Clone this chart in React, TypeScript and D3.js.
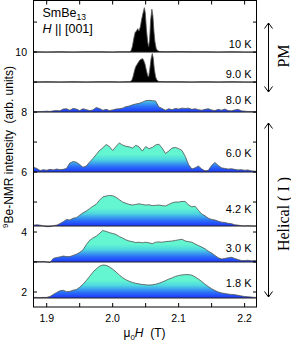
import React from "react";
import * as d3 from "d3";

// ---- data ----
const fieldGrid: number[] = d3.range(69).map((i) => +(1.88 + i * 0.005).toFixed(3));

const panelLabels = ["10 K", "9.0 K", "8.0 K", "6.0 K", "4.2 K", "3.0 K", "1.8 K"];
const baselines = [10, 9, 8, 6, 4.2, 3.0, 1.8];

const fields10K = [1.88, 1.9, 1.92, 1.94, 1.96, 1.98, 2.0, 2.01, 2.02, 2.026, 2.028, 2.03, 2.032, 2.034, 2.036, 2.038, 2.04, 2.042, 2.044, 2.046, 2.048, 2.0495, 2.051, 2.053, 2.0545, 2.056, 2.0575, 2.0594, 2.061, 2.0625, 2.064, 2.066, 2.068, 2.071, 2.08, 2.1, 2.12, 2.14, 2.16, 2.18, 2.2, 2.22];
const values10K = [0.01, 0.0, 0.01, 0.0, 0.01, 0.01, 0.0, 0.01, 0.01, 0.01, 0.05, 0.2, 0.45, 0.65, 0.7, 0.78, 0.7, 0.85, 1.1, 1.3, 1.48, 1.3, 0.8, 0.35, 0.18, 0.4, 1.05, 1.43, 1.2, 0.7, 0.35, 0.12, 0.05, 0.02, 0.01, 0.02, 0.01, 0.01, 0.0, 0.01, 0.0, 0.0];

const fields9K = [1.88, 1.9, 1.92, 1.94, 1.96, 1.98, 2.0, 2.01, 2.02, 2.026, 2.029, 2.031, 2.033, 2.035, 2.037, 2.039, 2.041, 2.043, 2.0455, 2.047, 2.049, 2.051, 2.053, 2.0545, 2.056, 2.058, 2.06, 2.0615, 2.063, 2.065, 2.067, 2.07, 2.08, 2.1, 2.12, 2.14, 2.16, 2.18, 2.2, 2.22];
const values9K = [0.0, 0.01, 0.0, 0.01, 0.0, 0.01, 0.01, 0.0, 0.01, 0.01, 0.06, 0.19, 0.38, 0.52, 0.59, 0.66, 0.73, 0.76, 0.78, 0.72, 0.6, 0.4, 0.22, 0.17, 0.38, 0.75, 0.95, 0.8, 0.45, 0.18, 0.07, 0.02, 0.01, 0.01, 0.0, 0.01, 0.0, 0.01, 0.0, 0.0];

const values8K = [0.01, 0.01, 0.02, 0.02, 0.03, 0.02, 0.04, 0.05, 0.04, 0.1, 0.11, 0.06, 0.12, 0.1, 0.05, 0.11, 0.08, 0.05, 0.07, 0.15, 0.12, 0.06, 0.09, 0.05, 0.07, 0.1, 0.11, 0.13, 0.18, 0.2, 0.24, 0.27, 0.29, 0.33, 0.38, 0.39, 0.38, 0.37, 0.17, 0.12, 0.06, 0.11, 0.08, 0.12, 0.1, 0.13, 0.12, 0.13, 0.09, 0.11, 0.08, 0.06, 0.09, 0.11, 0.07, 0.05, 0.09, 0.06, 0.1, 0.05, 0.04, 0.07, 0.09, 0.04, 0.03, 0.02, 0.02, 0.01, 0.01];

const values6K = [0.16, 0.12, 0.05, 0.08, 0.06, 0.09, 0.07, 0.1, 0.08, 0.09, 0.12, 0.3, 0.35, 0.33, 0.25, 0.16, 0.2, 0.33, 0.45, 0.58, 0.72, 0.8, 0.92, 0.85, 0.72, 0.85, 0.97, 0.9, 0.86, 0.84, 0.8, 0.89, 0.84, 0.7, 0.85, 0.78, 0.82, 0.9, 0.93, 0.8, 0.62, 0.7, 0.8, 0.82, 0.78, 0.72, 0.52, 0.25, 0.1, 0.14, 0.2, 0.1, 0.04, 0.06, 0.22, 0.32, 0.22, 0.14, 0.12, 0.1, 0.11, 0.09, 0.07, 0.08, 0.06, 0.07, 0.04, 0.03, 0.02];

const values4K2 = [0.03, 0.04, 0.03, 0.0, -0.02, -0.02, 0.01, 0.03, 0.08, 0.14, 0.22, 0.2, 0.26, 0.28, 0.36, 0.44, 0.5, 0.58, 0.66, 0.72, 0.86, 0.97, 1.0, 1.02, 1.01, 0.96, 0.88, 0.8, 0.76, 0.72, 0.7, 0.72, 0.74, 0.72, 0.7, 0.71, 0.68, 0.69, 0.7, 0.68, 0.67, 0.72, 0.77, 0.8, 0.8, 0.82, 0.82, 0.7, 0.64, 0.66, 0.52, 0.4, 0.34, 0.26, 0.22, 0.2, 0.16, 0.13, 0.12, 0.09, 0.08, 0.04, 0.03, 0.01, 0.0, 0.01, 0.0, 0.0, 0.0];

const values3K = [0.01, 0.02, 0.01, 0.02, 0.0, -0.02, 0.12, 0.15, 0.17, 0.2, 0.18, 0.18, 0.22, 0.26, 0.32, 0.4, 0.58, 0.72, 0.8, 0.86, 0.95, 1.05, 1.02, 0.98, 0.95, 0.92, 0.85, 0.8, 0.74, 0.7, 0.68, 0.65, 0.66, 0.64, 0.66, 0.64, 0.61, 0.66, 0.67, 0.66, 0.68, 0.69, 0.7, 0.72, 0.74, 0.76, 0.7, 0.68, 0.66, 0.6, 0.55, 0.5, 0.44, 0.36, 0.3, 0.22, 0.14, 0.1, 0.12, 0.14, 0.16, 0.12, 0.08, 0.05, 0.05, 0.06, 0.04, 0.05, 0.04];

const values1K8 = [0.02, 0.02, 0.01, 0.02, 0.02, 0.05, 0.12, 0.18, 0.24, 0.26, 0.21, 0.22, 0.26, 0.28, 0.36, 0.46, 0.58, 0.72, 0.86, 0.97, 1.06, 1.1, 1.09, 1.04, 0.96, 0.87, 0.77, 0.68, 0.61, 0.56, 0.52, 0.49, 0.47, 0.45, 0.44, 0.43, 0.44, 0.46, 0.49, 0.53, 0.58, 0.63, 0.67, 0.72, 0.75, 0.77, 0.78, 0.78, 0.76, 0.7, 0.63, 0.55, 0.46, 0.38, 0.31, 0.25, 0.2, 0.17, 0.15, 0.13, 0.12, 0.11, 0.09, 0.07, 0.05, 0.04, 0.03, 0.02, 0.02];

const xTickValues = [1.9, 2.0, 2.1, 2.2];
const xMinorTicks = [1.9, 1.95, 2.0, 2.05, 2.1, 2.15, 2.2];
const yTickValues = [2, 4, 6, 8, 10];
const yMinorTicks = [2, 3, 4, 5, 6, 7, 8, 9, 10, 11];

// ---- layout ----
const W = 291;
const H = 341;
const left = 33.5;
const right = 256.5;
const top = 0.5;
const bottom = 307;

const sans = "'Liberation Sans', Arial, Helvetica, sans-serif";
const serif = "'Liberation Serif', 'Times New Roman', serif";

export default function App() {
  const x = d3.scaleLinear().domain([1.88, 2.218]).range([left, right]);
  const y = d3.scaleLinear().domain([1.5, 11.72]).range([bottom, top]);

  const panels = [
    { f: fields10K, v: values10K, black: true },
    { f: fields9K, v: values9K, black: true },
    { f: fieldGrid, v: values8K, black: false },
    { f: fieldGrid, v: values6K, black: false },
    { f: fieldGrid, v: values4K2, black: false },
    { f: fieldGrid, v: values3K, black: false },
    { f: fieldGrid, v: values1K8, black: false },
  ];
  const labelOffsets = [0.12, 0.12, 0.27, 0.49, 0.42, 0.32, 0.36];

  return (
    <svg width={W} height={H} style={{ position: "absolute", left: 0, top: 0, background: "#fff" }}>
      <defs>
        <clipPath id="plotclip">
          <rect x={left} y={top} width={right - left} height={bottom - top} />
        </clipPath>
        {panels.map((p, i) => (
          <linearGradient
            key={i}
            id={`grad${i}`}
            gradientUnits="userSpaceOnUse"
            x1={0}
            x2={0}
            y1={y(baselines[i])}
            y2={y(baselines[i] + 0.6)}
          >
            <stop offset="0" stopColor="#1d34ff" />
            <stop offset="0.3" stopColor="#2b6ef7" />
            <stop offset="0.7" stopColor="#4fd8e0" />
            <stop offset="1" stopColor="#64f6d0" />
          </linearGradient>
        ))}
      </defs>

      <g clipPath="url(#plotclip)">
        {panels.map((p, i) => {
          const b = baselines[i];
          const pts = p.f.map((f, j) => [f, p.v[j]] as [number, number]);
          const area = d3
            .area<[number, number]>()
            .x((d) => x(d[0]))
            .y0(y(b))
            .y1((d) => y(b + d[1]));
          const line = d3
            .line<[number, number]>()
            .x((d) => x(d[0]))
            .y((d) => y(b + d[1]));
          return (
            <g key={i}>
              <path d={area(pts) || ""} fill={p.black ? "#000" : `url(#grad${i})`} />
              <path
                d={line(pts) || ""}
                fill="none"
                stroke={p.black ? "#555" : "#505050"}
                strokeWidth={0.8}
              />
              <line x1={left} x2={right} y1={y(b)} y2={y(b)} stroke="#222" strokeWidth={1} />
            </g>
          );
        })}
      </g>

      {/* frame */}
      <rect x={left} y={top} width={right - left} height={bottom - top} fill="none" stroke="#000" strokeWidth={1} />

      {/* x ticks */}
      {xMinorTicks.map((t) => (
        <g key={`xt${t}`}>
          <line x1={x(t)} x2={x(t)} y1={bottom} y2={bottom - 4} stroke="#000" strokeWidth={1} />
          <line x1={x(t)} x2={x(t)} y1={top} y2={top + 4} stroke="#000" strokeWidth={1} />
        </g>
      ))}
      {xTickValues.map((t) => (
        <text key={`xl${t}`} x={x(t)} y={321.5} textAnchor="middle" fontFamily={sans} fontSize={10.5} fill="#000">
          {t.toFixed(1)}
        </text>
      ))}

      {/* y ticks */}
      {yMinorTicks.map((t) => (
        <g key={`yt${t}`}>
          <line x1={left} x2={left + 3.5} y1={y(t)} y2={y(t)} stroke="#000" strokeWidth={1} />
          <line x1={right} x2={right - 3.5} y1={y(t)} y2={y(t)} stroke="#000" strokeWidth={1} />
        </g>
      ))}
      {yTickValues.map((t) => (
        <text key={`yl${t}`} x={27} y={y(t)} dy="0.36em" textAnchor="end" fontFamily={sans} fontSize={10.5} fill="#000">
          {t}
        </text>
      ))}

      {/* panel labels */}
      {panelLabels.map((l, i) => (
        <text key={l} x={251.5} y={y(baselines[i] + labelOffsets[i])} textAnchor="end" fontFamily={sans} fontSize={11} fill="#000">
          {l}
        </text>
      ))}

      {/* sample annotation */}
      <text x={42.5} y={17} fontFamily={sans} fontSize={12.5} fill="#000">
        SmBe<tspan fontSize={8.5} dy={2.5}>13</tspan>
      </text>
      <text x={42.5} y={33} fontFamily={sans} fontSize={12.5} fill="#000">
        <tspan fontStyle="italic">H</tspan> || [001]
      </text>

      {/* axis labels */}
      <text
        transform={`translate(13,147) rotate(-90)`}
        textAnchor="middle"
        fontFamily={sans}
        fontSize={12}
        fill="#000"
        style={{ whiteSpace: "pre" }}
      >
        <tspan fontSize={8} dy={-5}>9</tspan>
        <tspan dy={5}>Be-NMR intensity  (arb. units)</tspan>
      </text>
      <text x={144.5} y={337} textAnchor="middle" fontFamily={sans} fontSize={12} fill="#000" style={{ whiteSpace: "pre" }}>
        μ<tspan fontSize={8} dy={3}>0</tspan>
        <tspan dy={-3} fontStyle="italic">H</tspan>
        <tspan>{"  (T)"}</tspan>
      </text>

      {/* phase arrows */}
      <g stroke="#000" strokeWidth={1} fill="none">
        <line x1={268.5} x2={268.5} y1={23} y2={92} />
        <polyline points="264.5,28.5 268.5,23 272.5,28.5" />
        <polyline points="264.5,86.5 268.5,92 272.5,86.5" />
        <line x1={268.5} x2={268.5} y1={123} y2={297} />
        <polyline points="264.5,128.5 268.5,123 272.5,128.5" />
        <polyline points="264.5,291.5 268.5,297 272.5,291.5" />
      </g>
      <text transform="translate(288.5,56) rotate(-90)" textAnchor="middle" fontFamily={serif} fontSize={16} fill="#000">
        PM
      </text>
      <text
        transform="translate(288.5,214) rotate(-90)"
        textAnchor="middle"
        fontFamily={serif}
        fontSize={16}
        fill="#000"
        style={{ whiteSpace: "pre" }}
      >
        {"Helical ( I )"}
      </text>
    </svg>
  );
}
